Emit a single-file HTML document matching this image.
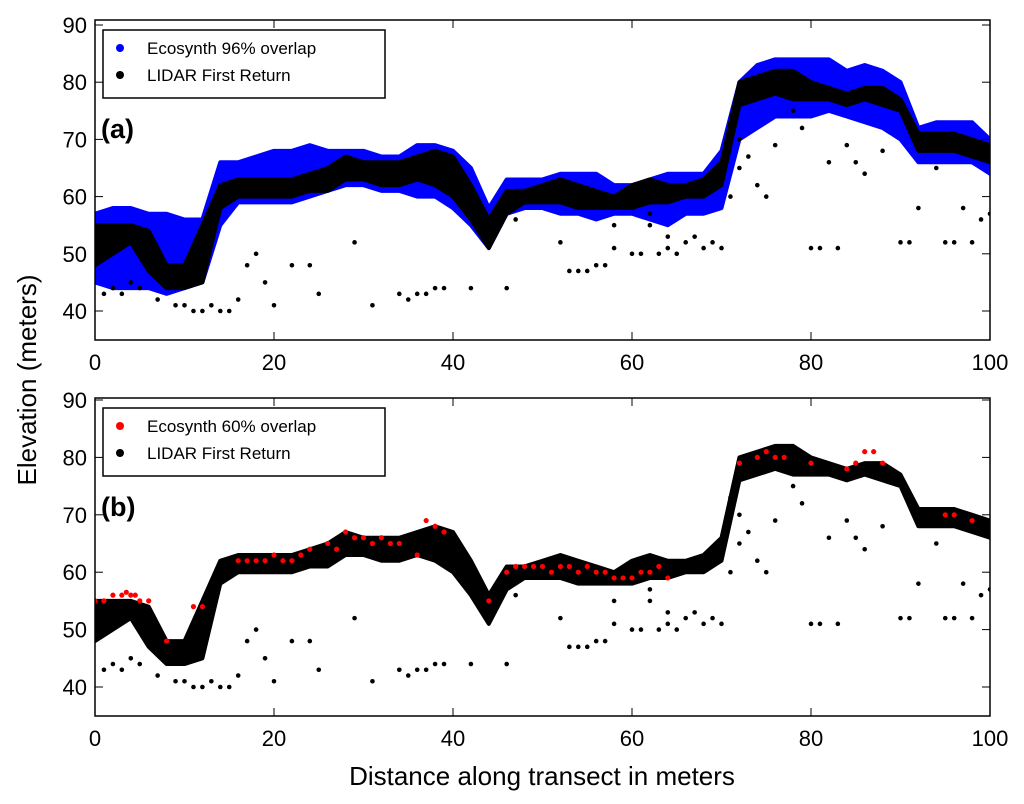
<!DOCTYPE html>
<html><head><meta charset="utf-8"><style>
body{margin:0;background:#fff;}
svg{display:block;font-family:"Liberation Sans",sans-serif;}
</style></head><body>
<svg id="chart" width="1024" height="804"></svg>
<script>
// ---- data ----
const xTicks=[0,20,40,60,80,100];
const yTicks=[40,50,60,70,80,90];
// LIDAR canopy-top band: x, low, high
const lidarX=[0,2,4,6,8,10,12,14,16,18,20,22,24,26,28,30,32,34,36,38,40,42,44,46,48,50,52,54,56,58,60,62,64,66,68,70,72,74,76,78,80,82,84,86,88,90,92,94,96,98,100];
const lidarLo=[48,50,52,47,44,44,45,58,60,60,60,60,61,61,63,63,62,62,63,62,60,56,51,57,59,59,59,58,58,58,58,59,59,60,60,62,76,77,78,77,77,77,76,77,76,75,68,68,68,67,66];
const lidarHi=[55,55,55,54,48,48,55,62,63,63,63,63,64,65,67,66,66,66,67,68,67,62,56,61,61,62,63,62,61,60,62,63,62,62,63,66,80,81,82,82,80,79,78,79,79,77,71,71,71,70,69];
// LIDAR lower returns (sparse points)
const lidarPtX=[1,2,3,4,5,7,9,10,11,12,13,14,15,16,17,18,19,20,22,24,25,29,31,34,35,36,37,38,39,42,46,47,52,53,54,55,56,57,58,60,61,62,63,64,65,66,67,68,69,70,71,72,72,73,74,75,78,79,80,81,82,83,84,85,86,88,90,91,92,94,95,96,97,98,99,100,64,58,62,76,71];
const lidarPtY=[43,44,43,45,44,42,41,41,40,40,41,40,40,42,48,50,45,41,48,48,43,52,41,43,42,43,43,44,44,44,44,56,52,47,47,47,48,48,55,50,50,55,50,51,50,52,53,51,52,51,60,65,70,67,62,60,75,72,51,51,66,51,69,66,64,68,52,52,58,65,52,52,58,52,56,57,53,51,57,69,73];
// Ecosynth 96% band
const blueX=[0,2,4,6,8,10,12,14,16,18,20,22,24,26,28,30,32,34,36,38,40,42,44,46,48,50,52,54,56,58,60,62,64,66,68,70,72,74,76,78,80,82,84,86,88,90,92,94,96,98,100];
const blueLo=[45,44,44,44,43,44,45,55,59,59,59,59,60,61,62,62,61,61,60,60,58,55,51,57,58,58,57,57,56,57,57,56,55,57,57,58,70,72,74,74,74,75,74,73,72,70,66,66,66,66,64];
const blueHi=[57,58,58,57,57,56,56,66,66,67,68,68,69,68,68,68,67,67,69,69,68,65,58,63,63,63,64,64,64,62,62,63,64,64,64,68,80,83,84,84,84,84,82,83,82,80,72,73,73,73,70];
// Ecosynth 60% points
const redX=[0,1,2,3,3.5,4,4.5,5,6,8,11,12,16,17,18,19,20,21,22,23,24,26,27,28,29,30,31,32,33,34,36,37,38,39,44,46,47,48,49,50,51,52,53,54,55,56,57,58,59,60,61,62,63,64,72,74,75,76,77,80,84,85,86,87,88,95,96,98];
const redY=[55,55,56,56,56.5,56,56,55,55,48,54,54,62,62,62,62,63,62,62,63,64,65,64,67,66,66,65,66,65,65,63,69,68,67,55,60,61,61,61,61,60,61,61,60,61,60,60,59,59,59,60,60,61,59,79,80,81,80,80,79,78,79,81,81,79,70,70,69];

// ---- layout ----
const svg=document.getElementById('chart');
const NS='http://www.w3.org/2000/svg';
const X0=95,X1=990;
const panels=[{top:20,bot:340,t90:25,t40:311,label:'(a)'},{top:398,bot:716,t90:400,t40:687,label:'(b)'}];
function mk(tag,attrs,parent){const e=document.createElementNS(NS,tag);for(const k in attrs)e.setAttribute(k,attrs[k]);(parent||svg).appendChild(e);return e;}
function sx(v){return X0+(X1-X0)*v/100;}
function syF(p){return v=>p.t40+(p.t90-p.t40)*(v-40)/50;}

function band(xs,lo,hi,sy,color,name,g){
  let pts=[];
  for(let i=0;i<xs.length;i++)pts.push(sx(xs[i])+','+sy(hi[i]));
  for(let i=xs.length-1;i>=0;i--)pts.push(sx(xs[i])+','+sy(lo[i]));
  const p=mk('polygon',{points:pts.join(' '),fill:color,stroke:color,'stroke-width':4,'stroke-linejoin':'round'},g);
  
  
}
function dots(xs,ys,sy,color,name,g,r){
  for(let i=0;i<xs.length;i++){
    const c=mk('circle',{cx:sx(xs[i]),cy:sy(ys[i]),r:r,fill:color},g);
    
    
  }
}

panels.forEach((p,pi)=>{
  const sy=syF(p);
  const g=mk('g',{});
  
  
  const cp=mk('clipPath',{id:'cp'+pi},g);mk('rect',{x:X0,y:p.top,width:X1-X0,height:p.bot-p.top},cp);
  const data=mk('g',{'clip-path':'url(#cp'+pi+')'},g);
  
  
  if(pi===0){
    band(blueX,blueLo,blueHi,sy,'#0000ff','ecosynth-96-band',data);
    band(lidarX,lidarLo,lidarHi,sy,'#000','lidar-band',data);
  }else{
    band(lidarX,lidarLo,lidarHi,sy,'#000','lidar-band',data);
  }
  dots(lidarPtX,lidarPtY,sy,'#000','lidar-point',data,2.3);
  if(pi===1)dots(redX,redY,sy,'#ff0000','ecosynth-60-point',data,2.6);
  // frame
  const fr=mk('rect',{x:X0,y:p.top,width:X1-X0,height:p.bot-p.top,fill:'none',stroke:'#000','stroke-width':1.5},g);
  
  xTicks.forEach(v=>{
    mk('line',{x1:sx(v),x2:sx(v),y1:p.bot,y2:p.bot-8,stroke:'#000'},g);
    mk('line',{x1:sx(v),x2:sx(v),y1:p.top,y2:p.top+8,stroke:'#000'},g);
    const t=mk('text',{x:sx(v),y:p.bot+30,'text-anchor':'middle','font-size':22},g);t.textContent=v;
    
  });
  yTicks.forEach(v=>{
    mk('line',{x1:X0,x2:X0+8,y1:sy(v),y2:sy(v),stroke:'#000'},g);
    mk('line',{x1:X1,x2:X1-8,y1:sy(v),y2:sy(v),stroke:'#000'},g);
    const t=mk('text',{x:X0-8,y:sy(v)+8,'text-anchor':'end','font-size':22},g);t.textContent=v;
    
  });
  const lab=mk('text',{x:101,y:p.top+118,'font-size':27,'font-weight':'bold'},g);lab.textContent=p.label;
  
  // legend
  const lg=mk('g',{},g);
  
  const ly=p.top+10;
  mk('rect',{x:103,y:ly,width:282,height:68,fill:'#fff',stroke:'#000','stroke-width':1.5},lg);
  const entries=pi===0?[['#0000ff','Ecosynth 96% overlap'],['#000','LIDAR First Return']]:[['#ff0000','Ecosynth 60% overlap'],['#000','LIDAR First Return']];
  entries.forEach((e,i)=>{
    const en=mk('g',{},lg);
    
    mk('circle',{cx:120,cy:ly+18+i*27,r:4,fill:e[0]},en);
    const t=mk('text',{x:147,y:ly+24+i*27,'font-size':17},en);t.textContent=e[1];
  });
});
const yl=mk('text',{x:36,y:380,'text-anchor':'middle','font-size':26,transform:'rotate(-90 36 380)'});
yl.textContent='Elevation (meters)';
const xl=mk('text',{x:542,y:785,'text-anchor':'middle','font-size':26});
xl.textContent='Distance along transect in meters';
</script>
</body></html>
